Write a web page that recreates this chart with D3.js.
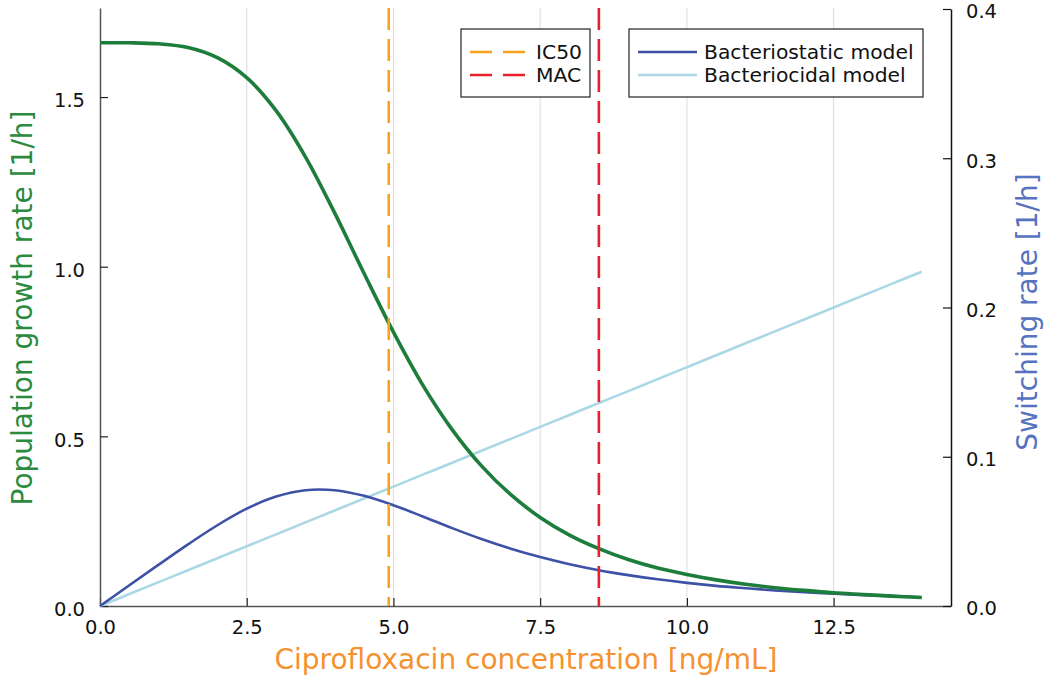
<!DOCTYPE html>
<html>
<head>
<meta charset="utf-8">
<script src="https://cdn.jsdelivr.net/npm/d3@7"></script>
<style>
  html, body { margin: 0; padding: 0; background: #fff; }
  svg { display: block; font-family: "DejaVu Sans", sans-serif; }
</style>
</head>
<body>
<svg id="chart" width="1055" height="682"></svg>
<script>
// Ciprofloxacin concentration samples [ng/mL]
const concentration = [0, 0.5, 1, 1.5, 2, 2.5, 3, 3.5, 4, 4.5, 5, 5.5, 6, 6.5, 7,
  7.5, 8, 8.5, 9, 9.5, 10, 10.5, 11, 11.5, 12, 12.5, 13, 13.5, 14];

// Population growth rate [1/h] (left axis)
const growthRate = [1.660, 1.660, 1.657, 1.646, 1.616, 1.557, 1.460, 1.324, 1.158, 0.980,
  0.807, 0.651, 0.520, 0.413, 0.328, 0.261, 0.209, 0.169, 0.137, 0.112,
  0.093, 0.077, 0.064, 0.054, 0.046, 0.039, 0.034, 0.029, 0.025];

// Switching rate [1/h] (right axis)
const bacteriostatic = [0, 0.0139, 0.0277, 0.0413, 0.0541, 0.0652, 0.0733, 0.0776, 0.0776, 0.0738,
  0.0675, 0.0600, 0.0522, 0.0449, 0.0384, 0.0328, 0.0280, 0.0240, 0.0207, 0.0179,
  0.0155, 0.0135, 0.0119, 0.0104, 0.0092, 0.0082, 0.0073, 0.0066, 0.0059];
const bacteriocidal = [0, 0.008, 0.016, 0.024, 0.032, 0.040, 0.048, 0.056, 0.064, 0.072,
  0.080, 0.088, 0.096, 0.104, 0.112, 0.120, 0.128, 0.136, 0.144, 0.152,
  0.160, 0.168, 0.176, 0.184, 0.192, 0.200, 0.208, 0.216, 0.224];

// Reference concentrations
const ic50 = 4.92;
const mac = 8.5;

// Tick values
const xTicks = [0, 2.5, 5, 7.5, 10, 12.5];
const yLeftTicks = [0, 0.5, 1.0, 1.5];
const yRightTicks = [0, 0.1, 0.2, 0.3, 0.4];

const svg = d3.select("#chart");
const plotLeft = 100, plotRight = 951, plotTop = 8, plotBottom = 606;

const x = d3.scaleLinear().domain([0, 14.5]).range([plotLeft, plotRight]);
const yL = d3.scaleLinear().domain([0, 1.7625]).range([plotBottom, plotTop]);
const yR = d3.scaleLinear().domain([0, 0.4]).range([plotBottom, 9]);

const fmt = d3.format(".1f");

// vertical grid
svg.append("g")
  .selectAll("line").data(xTicks.slice(1)).join("line")
  .attr("x1", d => x(d)).attr("x2", d => x(d))
  .attr("y1", plotTop).attr("y2", plotBottom)
  .attr("stroke", "#dcdcdc").attr("stroke-width", 1);

// bottom axis
const xAxis = svg.append("g")
  .attr("transform", `translate(0,${plotBottom})`)
  .call(d3.axisBottom(x).tickValues(xTicks).tickFormat(fmt).tickSizeInner(-8).tickSizeOuter(0).tickPadding(14));
xAxis.select(".domain").attr("stroke", "#555").attr("stroke-width", 1.5);
xAxis.selectAll(".tick line").attr("stroke", "#222").attr("stroke-width", 1.2);
xAxis.selectAll("text").attr("font-size", 19.5).attr("fill", "#111").attr("font-family", "DejaVu Sans");

// left axis
const yAxisL = svg.append("g")
  .attr("transform", `translate(${plotLeft},0)`)
  .call(d3.axisLeft(yL).tickValues(yLeftTicks).tickFormat(fmt).tickSizeInner(-8).tickSizeOuter(0).tickPadding(15));
yAxisL.select(".domain").attr("stroke", "#555").attr("stroke-width", 1.5);
yAxisL.selectAll(".tick line").attr("stroke", "#222").attr("stroke-width", 1.2);
yAxisL.selectAll("text").attr("font-size", 19.5).attr("fill", "#111").attr("dy", "0.5em").attr("font-family", "DejaVu Sans");

// right axis
const yAxisR = svg.append("g")
  .attr("transform", `translate(${plotRight},0)`)
  .call(d3.axisRight(yR).tickValues(yRightTicks).tickFormat(fmt).tickSizeInner(-8).tickSizeOuter(0).tickPadding(15));
yAxisR.select(".domain").attr("stroke", "#111").attr("stroke-width", 1.5);
yAxisR.selectAll(".tick line").attr("stroke", "#111").attr("stroke-width", 1.2);
yAxisR.selectAll("text").attr("font-size", 19.5).attr("fill", "#111").attr("dy", "0.45em").attr("font-family", "DejaVu Sans");

// curves
const smooth = d3.curveCatmullRom.alpha(0.5);
const lineL = d3.line().x((d, i) => x(concentration[i])).y(d => yL(d)).curve(smooth);
const lineR = d3.line().x((d, i) => x(concentration[i])).y(d => yR(d)).curve(smooth);

svg.append("path").datum(bacteriocidal).attr("d", lineR)
  .attr("fill", "none").attr("stroke", "#acd8e6").attr("stroke-width", 2.6);
svg.append("path").datum(bacteriostatic).attr("d", lineR)
  .attr("fill", "none").attr("stroke", "#3d52a6").attr("stroke-width", 2.6);
svg.append("path").datum(growthRate).attr("d", lineL)
  .attr("fill", "none").attr("stroke", "#1d7d3b").attr("stroke-width", 3.6);

// reference lines
const refs = [{v: ic50, c: "#f7a21b"}, {v: mac, c: "#e8202a"}];
svg.append("g").selectAll("line").data(refs).join("line")
  .attr("x1", d => x(d.v)).attr("x2", d => x(d.v))
  .attr("y1", plotTop).attr("y2", plotBottom)
  .attr("stroke", d => d.c).attr("stroke-width", 2.6)
  .attr("stroke-dasharray", "22,9");

// legends
function legend(x0, y0, w, h, items, lx0, lx1, tx) {
  const g = svg.append("g");
  g.append("rect").attr("x", x0).attr("y", y0).attr("width", w).attr("height", h)
    .attr("fill", "#fff").attr("stroke", "#222").attr("stroke-width", 1.2);
  items.forEach((it, i) => {
    const yy = 52 + i * 23;
    g.append("line").attr("x1", lx0).attr("x2", lx1).attr("y1", yy).attr("y2", yy)
      .attr("stroke", it.c).attr("stroke-width", 2.4)
      .attr("stroke-dasharray", it.dash || null);
    g.append("text").attr("x", tx).attr("y", yy).attr("dy", "0.36em")
      .attr("font-size", 20.3).attr("fill", "#111").text(it.label);
  });
}
legend(461, 29, 129, 68, [
  {label: "IC50", c: "#f7a21b", dash: "22,11"},
  {label: "MAC", c: "#e8202a", dash: "22,11"}
], 470, 527, 536);
legend(629, 29, 294, 68, [
  {label: "Bacteriostatic model", c: "#3d52a6"},
  {label: "Bacteriocidal model", c: "#acd8e6"}
], 638, 697, 704);

// axis titles
svg.append("text").attr("x", 526).attr("y", 669).attr("text-anchor", "middle")
  .attr("font-size", 28).attr("fill", "#f5922f").text("Ciprofloxacin concentration [ng/mL]");
svg.append("text").attr("transform", "translate(32,308) rotate(-90)").attr("text-anchor", "middle")
  .attr("font-size", 28).attr("fill", "#2a8a3e").text("Population growth rate [1/h]");
svg.append("text").attr("transform", "translate(1037,312) rotate(-90)").attr("text-anchor", "middle")
  .attr("font-size", 28).attr("fill", "#5673c0").text("Switching rate [1/h]");
</script>
</body>
</html>
